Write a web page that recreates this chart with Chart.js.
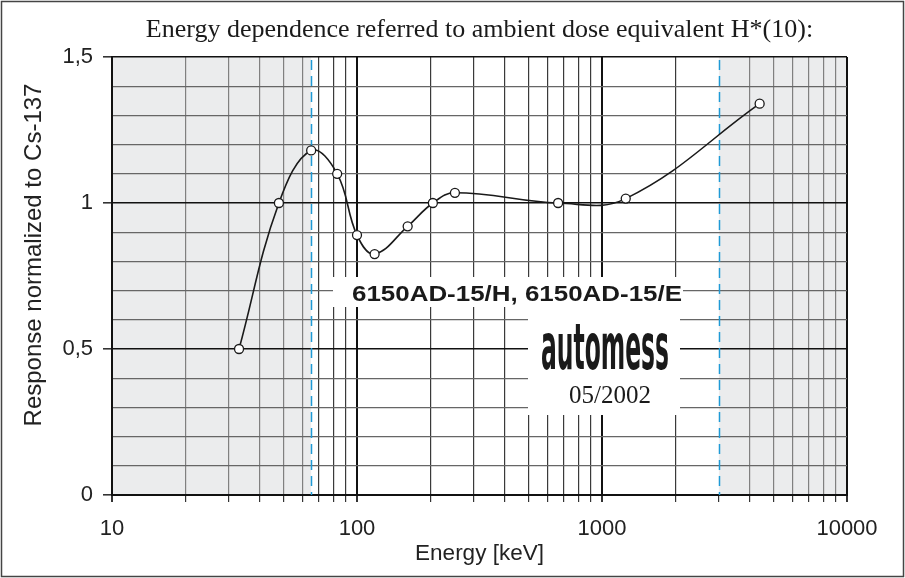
<!DOCTYPE html>
<html>
<head>
<meta charset="utf-8">
<title>Energy dependence 6150AD-15</title>
<script src="https://cdn.jsdelivr.net/npm/chart.js@4.4.1/dist/chart.umd.min.js"></script>
<style>
  html, body { margin: 0; padding: 0; background: #fff; }
  #chart { display: block; }
</style>
</head>
<body>
<canvas id="chart" width="905" height="578"></canvas>
<script>
// measured points (keV / relative response)
const energies = [33, 48, 65, 83, 100, 118, 161, 204, 251, 662, 1250, 4400];
const responses = [0.50, 1.00, 1.18, 1.10, 0.89, 0.825, 0.92, 1.00, 1.035, 1.00, 1.015, 1.34];

// grid + labels
const xGrid = [10, 20, 30, 40, 50, 60, 70, 80, 90,
               100, 200, 300, 400, 500, 600, 700, 800, 900,
               1000, 2000, 3000, 4000, 5000, 6000, 7000, 8000, 9000, 10000];
const xLabels = [10, 100, 1000, 10000];
const yGrid = [0, 0.1, 0.2, 0.3, 0.4, 0.5, 0.6, 0.7, 0.8, 0.9, 1, 1.1, 1.2, 1.3, 1.4, 1.5];
const yLabels = [0, 0.5, 1, 1.5];

// outside of the rated range (grey) and its limits (blue dashed)
const shadedBands = [[10, 65], [3000, 10000]];
const rangeLimits = [65, 3000];

const SANS = "'Liberation Sans', Arial, Helvetica, sans-serif";
const SERIF = "'Liberation Serif', 'Times New Roman', serif";

const isDecade = v => xLabels.includes(v);
const inShade = v => shadedBands.some(([a, b]) => v > a && v < b) || v === 60 || v === 4000;
const isMajorY = v => Math.abs(v * 2 - Math.round(v * 2)) < 1e-6;

const backgroundPlugin = {
    id: 'background',
    beforeDraw(chart) {
        const { ctx, chartArea, scales } = chart;
        ctx.save();
        ctx.fillStyle = '#fff';
        ctx.fillRect(0, 0, chart.width, chart.height);
        ctx.fillStyle = '#ebeced';
        shadedBands.forEach(([a, b]) => {
            const x1 = scales.x.getPixelForValue(a);
            const x2 = scales.x.getPixelForValue(b);
            ctx.fillRect(x1, chartArea.top, x2 - x1, chartArea.bottom - chartArea.top);
        });
        ctx.restore();
    },
    beforeDatasetsDraw(chart) {
        const { ctx, chartArea, scales } = chart;
        ctx.save();
        ctx.strokeStyle = '#1f9ad6';
        ctx.lineWidth = 1.5;
        ctx.setLineDash([10, 6]);
        rangeLimits.forEach(v => {
            const x = Math.round(scales.x.getPixelForValue(v)) + 0.5;
            ctx.beginPath();
            ctx.moveTo(x, chartArea.top + 3);
            ctx.lineTo(x, chartArea.bottom);
            ctx.stroke();
        });
        ctx.restore();
    }
};

const labelPlugin = {
    id: 'labels',
    afterDraw(chart) {
        const { ctx } = chart;
        ctx.save();

        // y axis title (sits a bit above the axis centre in the original)
        ctx.save();
        ctx.translate(34, 255);
        ctx.rotate(-Math.PI / 2);
        ctx.fillStyle = '#222';
        ctx.font = '24px ' + SANS;
        ctx.textAlign = 'center';
        ctx.textBaseline = 'middle';
        ctx.fillText('Response normalized to Cs-137', 0, 0);
        ctx.restore();

        // model name box
        ctx.fillStyle = '#fff';
        ctx.fillRect(333, 277, 350, 30);
        ctx.fillStyle = '#1a1a1a';
        ctx.font = 'bold 22px ' + SANS;
        ctx.textBaseline = 'alphabetic';
        ctx.textAlign = 'left';
        const model = '6150AD-15/H, 6150AD-15/E';
        let w = ctx.measureText(model).width;
        ctx.save();
        ctx.translate(352, 301);
        ctx.scale(330 / w, 1);
        ctx.fillText(model, 0, 0);
        ctx.restore();

        // logo box
        ctx.fillStyle = '#fff';
        ctx.fillRect(528, 307, 152, 108);
        ctx.fillStyle = '#1a1a1a';
        ctx.font = 'bold 64px ' + "'DejaVu Sans Condensed', 'DejaVu Sans', sans-serif";
        const logo = 'automess';
        w = ctx.measureText(logo).width;
        ctx.save();
        ctx.translate(541, 369);
        ctx.scale(128 / w, 1);
        ctx.fillText(logo, 0, 0);
        ctx.restore();

        ctx.font = '25px ' + SERIF;
        ctx.textAlign = 'center';
        ctx.fillText('05/2002', 610, 403);

        // outer frame
        ctx.strokeStyle = '#444';
        ctx.lineWidth = 1.5;
        ctx.strokeRect(1.5, 1.5, chart.width - 3, chart.height - 3);
        ctx.restore();
    }
};

new Chart(document.getElementById('chart'), {
    type: 'line',
    data: {
        datasets: [{
            data: energies.map((e, i) => ({ x: e, y: responses[i] })),
            borderColor: '#1a1a1a',
            borderWidth: 1.6,
            tension: 0.4,
            pointRadius: 4.5,
            pointBackgroundColor: '#fff',
            pointBorderColor: '#1a1a1a',
            pointBorderWidth: 1.3
        }]
    },
    options: {
        responsive: false,
        animation: false,
        devicePixelRatio: 1,
        layout: { padding: { left: 0, right: 58, top: 0, bottom: 0 } },
        plugins: {
            legend: { display: false },
            tooltip: { enabled: false },
            title: {
                display: true,
                fullSize: false,
                text: 'Energy dependence referred to ambient dose equivalent H*(10):',
                color: '#1a1a1a',
                font: { family: SERIF, size: 26, weight: 'normal', lineHeight: 1.2 },
                padding: { top: 15, bottom: 10.8 }
            }
        },
        scales: {
            x: {
                type: 'logarithmic',
                min: 10,
                max: 10000,
                afterBuildTicks: s => { s.ticks = xGrid.map(v => ({ value: v })); },
                afterFit: s => { s.height = 83; },
                ticks: {
                    autoSkip: false,
                    maxRotation: 0,
                    padding: 14,
                    color: '#222',
                    font: { family: SANS, size: 22 },
                    callback: v => (isDecade(v) ? String(v) : '')
                },
                grid: {
                    color: c => {
                        const v = c.tick.value;
                        if (rangeLimits.includes(v)) return 'rgba(0,0,0,0)';
                        if (isDecade(v)) return '#111';
                        return inShade(v) ? '#808080' : '#3a3a3a';
                    },
                    lineWidth: c => (isDecade(c.tick.value) ? 2 : 1.2),
                    tickColor: '#333',
                    tickLength: 7
                },
                border: { display: true, color: '#111', width: 2 },
                title: {
                    display: true,
                    text: 'Energy [keV]',
                    color: '#222',
                    font: { family: SANS, size: 22.5, lineHeight: 1.2 },
                    padding: { top: 0, bottom: 11 }
                }
            },
            y: {
                type: 'linear',
                min: 0,
                max: 1.5,
                afterBuildTicks: s => { s.ticks = yGrid.map(v => ({ value: v })); },
                afterFit: s => { s.width = 112; },
                ticks: {
                    autoSkip: false,
                    padding: 10,
                    color: '#222',
                    font: { family: SANS, size: 22 },
                    callback: v => (yLabels.includes(v) ? String(v).replace('.', ',') : '')
                },
                grid: {
                    color: c => (isMajorY(c.tick.value) ? '#111' : '#666'),
                    lineWidth: c => (isMajorY(c.tick.value) ? 1.6 : 1.2),
                    tickColor: c => (isMajorY(c.tick.value) ? '#333' : 'rgba(0,0,0,0)'),
                    tickLength: 9
                },
                border: { display: true, color: '#111', width: 2 },
                title: { display: false }
            }
        }
    },
    plugins: [backgroundPlugin, labelPlugin]
});
</script>
</body>
</html>
